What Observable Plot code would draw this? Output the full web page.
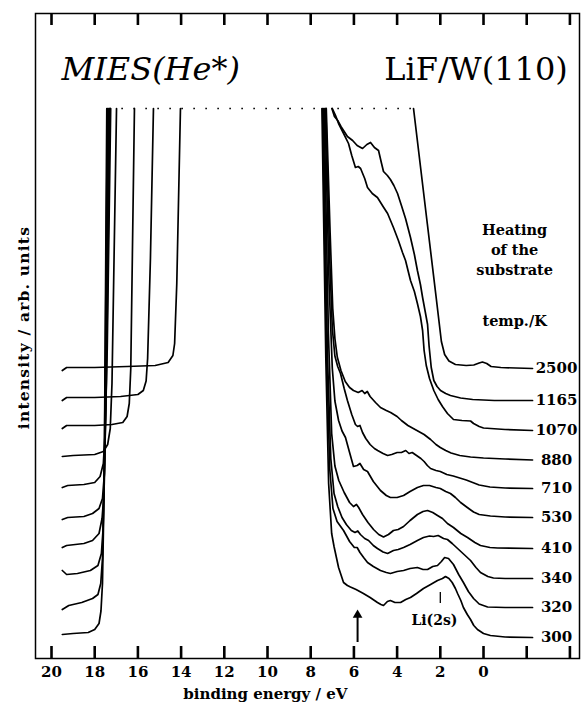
<!DOCTYPE html>
<html><head><meta charset="utf-8">
<script src="https://cdn.jsdelivr.net/npm/d3@7"></script>
<script src="https://cdn.jsdelivr.net/npm/@observablehq/plot@0.6"></script>
<style>body{margin:0;background:#fff} svg{display:block}</style>
</head><body><div id="chart"></div>
<script>
// Heating temperatures (K), bottom to top
const temps = [300, 320, 340, 410, 530, 710, 880, 1070, 1165, 2500];
// x-axis ticks (binding energy, eV)
const tickE = [20, 18, 16, 14, 12, 10, 8, 6, 4, 2, 0, -2, -4];
const tickLabels = [20, 18, 16, 14, 12, 10, 8, 6, 4, 2, 0];
const clipLevel = 110;     // spectra truncated at this intensity (dotted line)
const clipSpan = [17.3, 3.24];
const arrowE = 5.83;       // marked feature
const li2sE = 2.0;         // Li(2s) position

// Left part of each spectrum (secondary-electron cutoff) [E, intensity]
const left_2500 = [[19.5,57.6],[19.3,58.2],[18,58.2],[16.5,58.4],[15.2,58.6],[14.6,59.2],[14.38,60.6],[14.3,63],[14.2,75],[14.03,110]];
const left_1165 = [[19.5,51.6],[19.3,52.2],[18,52.2],[16.8,52.4],[16.0,52.8],[15.75,53.6],[15.62,55.5],[15.55,60],[15.42,80],[15.28,110]];
const left_1070 = [[19.5,46.0],[19.3,46.6],[18,46.6],[17.2,46.8],[16.7,47.2],[16.5,48.4],[16.4,51],[16.33,58],[16.16,110]];
const left_880  = [[19.5,40.4],[19.0,40.6],[18.0,40.8],[17.6,41.4],[17.4,42.8],[17.28,46],[17.2,55],[16.99,110]];
const left_710  = [[19.5,34.2],[19.25,34.6],[18.5,34.8],[18.0,35.2],[17.75,36.4],[17.6,39],[17.52,45],[17.42,62],[17.26,110]];
const left_530  = [[19.5,27.8],[19.25,28.2],[18.5,28.4],[18.1,29],[17.8,30],[17.64,32],[17.55,37],[17.46,55],[17.30,110]];
const left_410  = [[19.5,22.2],[19.3,22.6],[18.5,23],[18.1,23.6],[17.8,25],[17.66,28],[17.57,33],[17.49,50],[17.34,110]];
const left_340  = [[19.5,17.6],[19.3,16.8],[18.8,17.0],[18.2,17.6],[17.85,18.6],[17.69,21],[17.61,26],[17.52,45],[17.38,110]];
const left_320  = [[19.5,9.8],[19.2,10.6],[18.6,11.2],[18.1,12.0],[17.85,12.8],[17.72,15],[17.64,20],[17.55,40],[17.41,110]];
const left_300  = [[19.5,4.8],[19.0,5.0],[18.3,5.2],[18.0,5.8],[17.8,7.0],[17.71,9.5],[17.64,15],[17.56,35],[17.44,110]];

// Right part of each spectrum (valence region) [E, intensity]
const right_2500 = [[3.24,110],[2.6,86.9],[2.2,72.5],[1.95,63.4],[1.8,60.8],[1.6,59.5],[1.3,58.8],[0.8,58.6],[0.45,58.7],[0.2,59.1],[0.05,59.3],[-0.15,59.0],[-0.35,58.4],[-0.8,58.2],[-1.5,58.1],[-2.27,58.0]];
const right_1165 = [[7.02,110],[6.9,108.4],[6.75,107.6],[6.6,106.4],[6.48,105.6],[6.3,104.4],[6.06,103.6],[5.85,102.6],[5.6,102.0],[5.4,102.8],[5.23,103.2],[5.05,102.2],[4.86,101.6],[4.72,99.0],[4.63,97.4],[4.45,96.6],[4.31,95.8],[4.15,94.6],[3.98,93.0],[3.8,90.6],[3.61,88.0],[3.38,84.2],[3.2,80.8],[3.06,77.6],[2.92,74.8],[2.82,72.2],[2.7,69.4],[2.59,66.8],[2.52,62.5],[2.42,58.2],[2.3,55.6],[2.15,54.4],[1.99,53.6],[1.75,53.0],[1.53,52.6],[1.06,52.1],[0.5,51.8],[-0.5,51.6],[-2.27,51.6]];
const right_1070 = [[7.0,110],[6.85,108.6],[6.71,107],[6.5,105.2],[6.25,103],[6.1,100.6],[5.93,98.2],[5.8,98.4],[5.69,98.0],[5.5,96.0],[5.37,94.2],[5.15,93.0],[4.91,92.2],[4.65,90.4],[4.44,89.0],[4.17,86.2],[3.94,83.6],[3.75,81.2],[3.61,79.6],[3.38,75.6],[3.2,73.4],[3.06,71.0],[2.92,68.4],[2.82,65.6],[2.75,61.6],[2.65,58.6],[2.5,56.0],[2.3,53.6],[2.1,51.8],[1.9,50.4],[1.67,49.0],[1.39,47.8],[1.0,47.6],[0.6,47.5],[0.46,47.0],[0.2,46.4],[0.0,46.1],[-1.0,45.8],[-2.27,45.6]];
const right_880  = [[7.28,110],[7.1,85],[6.98,70],[6.88,64],[6.77,60.3],[6.6,57.6],[6.4,55.4],[6.2,54.2],[6.02,53.6],[5.8,53.2],[5.62,53.6],[5.5,53.0],[5.38,53.4],[5.25,52.4],[5.0,51.2],[4.77,50.2],[4.5,49.6],[4.3,49.2],[4.0,48.4],[3.8,47.6],[3.5,46.6],[3.25,46.0],[3.0,45.4],[2.75,44.8],[2.45,43.8],[2.2,42.8],[2.0,42.2],[1.75,41.6],[1.5,41.1],[1.1,40.6],[0.6,40.3],[0.0,40.1],[-1.0,39.9],[-2.27,39.7]];
const right_710  = [[7.30,110],[7.12,80],[7.0,66],[6.88,60.5],[6.75,58.4],[6.62,57],[6.45,54],[6.3,51.6],[6.1,48.8],[5.93,46.8],[5.83,46.4],[5.72,46.6],[5.6,45.2],[5.45,44],[5.25,42.8],[5.05,42],[4.9,41.6],[4.65,41.0],[4.44,40.6],[4.25,40.8],[4.0,41.2],[3.8,41.2],[3.6,41.6],[3.45,41.0],[3.3,41.2],[3.1,40.6],[2.9,40.0],[2.75,39.4],[2.6,38.6],[2.45,38.0],[2.2,37.6],[2.0,37.4],[1.7,36.8],[1.4,36.5],[1.1,36.1],[0.8,35.7],[0.5,35.2],[0.2,34.7],[-0.3,34.3],[-1.0,34.1],[-2.27,34.0]];
const right_530  = [[7.34,110],[7.15,75],[7.0,58],[6.88,51.5],[6.71,47.6],[6.55,45.5],[6.39,44.2],[6.2,41.2],[6.02,38.4],[5.85,38.6],[5.72,39.0],[5.55,37.8],[5.37,37.4],[5.1,35.4],[4.77,33.6],[4.5,32.6],[4.31,32.2],[4.0,32.2],[3.7,32.6],[3.4,33.4],[3.06,34.2],[2.78,34.6],[2.5,34.6],[2.2,34.2],[2.0,34.0],[1.75,33.4],[1.53,33.0],[1.3,32.2],[1.06,31.2],[0.75,30.2],[0.46,29.3],[0.2,28.8],[-0.32,28.5],[-1.0,28.3],[-2.27,28.2]];
const right_410  = [[7.38,110],[7.18,65],[7.03,45],[6.88,38.5],[6.7,35.6],[6.45,33.2],[6.2,31.2],[6.02,30.4],[5.88,30.8],[5.78,30.2],[5.6,28.8],[5.35,27.2],[5.09,25.8],[4.85,24.8],[4.63,24.3],[4.4,24.8],[4.17,25.6],[3.95,25.8],[3.7,26.4],[3.4,27.6],[3.06,28.8],[2.8,29.4],[2.59,29.6],[2.35,29.2],[2.13,28.6],[1.9,28.0],[1.67,27.0],[1.39,26.2],[1.05,25.0],[0.74,24.2],[0.4,23.2],[0.14,22.6],[-0.3,22.2],[-0.65,22.1],[-2.27,22.0]];
const right_340  = [[7.42,110],[7.22,60],[7.07,40],[6.92,33],[6.75,30.4],[6.55,28.2],[6.35,26.8],[6.12,25.6],[5.95,25.2],[5.82,25.5],[5.7,24.8],[5.5,24.0],[5.32,23.6],[5.1,22.6],[4.91,22.0],[4.65,21.3],[4.44,21.0],[4.17,21.6],[3.95,21.8],[3.7,22.2],[3.4,22.8],[3.06,23.6],[2.78,24.2],[2.5,24.5],[2.31,24.4],[2.1,24.6],[1.85,24.0],[1.67,23.8],[1.45,23.0],[1.2,22.0],[0.9,20.8],[0.6,19.6],[0.35,18.2],[0.14,17.2],[-0.2,16.4],[-0.46,16.1],[-1.0,16.0],[-2.27,16.0]];
const right_320  = [[7.45,110],[7.26,60],[7.12,38],[6.97,30],[6.78,27.4],[6.48,25.6],[6.2,23.4],[5.98,22.2],[5.85,22.2],[5.72,21.2],[5.55,20.2],[5.37,19.2],[5.1,18.4],[4.77,17.6],[4.5,17.2],[4.31,17.0],[4.0,17.4],[3.7,17.6],[3.4,18.0],[3.06,18.2],[2.8,17.8],[2.59,17.8],[2.35,18.4],[2.13,18.6],[1.95,19.4],[1.8,20.2],[1.62,20.0],[1.39,18.8],[1.15,16.8],[0.93,15.2],[0.7,13.4],[0.46,12.0],[0.2,10.9],[-0.19,10.3],[-1.0,10.2],[-2.27,10.2]];
const right_300  = [[7.48,110],[7.3,60],[7.17,35],[7.03,25],[6.92,22.4],[6.8,20],[6.71,18.2],[6.48,15.2],[6.3,14.6],[6.16,14.3],[5.9,13.8],[5.56,13.0],[5.25,12.2],[4.91,11.2],[4.75,10.8],[4.63,10.6],[4.45,11.4],[4.31,11.6],[4.1,11.2],[3.84,11.2],[3.6,11.8],[3.38,12.2],[3.1,13.0],[2.78,14.0],[2.45,14.8],[2.13,15.6],[1.9,16.0],[1.76,16.4],[1.6,16.0],[1.45,15.2],[1.3,14.0],[1.2,13.0],[1.05,11.6],[0.93,10.2],[0.75,8.8],[0.6,7.8],[0.45,6.6],[0.28,5.8],[0.0,5.0],[-0.32,4.6],[-1.0,4.3],[-2.27,4.2]];

const lefts  = [left_300, left_320, left_340, left_410, left_530, left_710, left_880, left_1070, left_1165, left_2500];
const rights = [right_300, right_320, right_340, right_410, right_530, right_710, right_880, right_1070, right_1165, right_2500];

const rows = [];
temps.forEach((t, i) => {
  lefts[i].forEach(([E, I]) => rows.push({key: t + "L", E, I}));
  rights[i].forEach(([E, I]) => rows.push({key: t + "R", E, I}));
});
const ends = temps.map((t, i) => {
  const p = rights[i][rights[i].length - 1];
  return {t, E: p[0], I: p[1]};
});

const bold = {fontWeight: "bold", fill: "black"};

const chart = Plot.plot({
  width: 581, height: 709,
  marginLeft: 35, marginRight: 2, marginTop: 13, marginBottom: 51,
  x: {domain: [20.741, -4.444], axis: null},
  y: {domain: [0, 129], axis: null},
  style: {fontFamily: "DejaVu Serif", background: "white", color: "black"},
  marks: [
    Plot.frame({stroke: "black", strokeWidth: 1.5}),
    Plot.ruleX(tickE, {y1: 0, y2: 2.4, stroke: "black", strokeWidth: 2.6}),
    Plot.ruleX(tickE, {y1: 129, y2: 126.6, stroke: "black", strokeWidth: 2.6}),
    Plot.text(tickLabels, {x: d => d, y: 0, dy: 14, text: d => String(d), fontSize: 15, ...bold}),
    Plot.text(["binding energy / eV"], {x: 10.1, y: 0, dy: 36, fontSize: 15, ...bold}),
    Plot.text(["intensity / arb. units"], {x: 21.25, y: 66.2, rotate: -90, fontSize: 15.5, className: "ylab", ...bold}),
    Plot.ruleY([clipLevel], {x1: clipSpan[0], x2: clipSpan[1], stroke: "black", strokeWidth: 1.6, strokeDasharray: "1.6,10.4"}),
    Plot.line(rows, {x: "E", y: "I", z: "key", stroke: "black", strokeWidth: 1.7, strokeLinejoin: "round"}),
    Plot.text(ends, {x: "E", y: "I", dx: 24, text: d => String(d.t), fontSize: 15, ...bold}),
    Plot.text(["Heating\nof the\nsubstrate"], {x: -1.44, y: 82, fontSize: 14.5, lineHeight: 1.38, ...bold}),
    Plot.text(["temp./K"], {x: -1.44, y: 67.4, fontSize: 14.5, ...bold}),
    Plot.text(["MIES(He*)"], {x: 19.54, y: 117.8, textAnchor: "start", fontSize: 32, fontStyle: "italic", fill: "black"}),
    Plot.text(["LiF/W(110)"], {x: -3.9, y: 117.8, textAnchor: "end", fontSize: 32, fill: "black"}),
    Plot.ruleX([li2sE], {y1: 11, y2: 13.2, stroke: "black", strokeWidth: 1.3}),
    Plot.text(["Li(2s)"], {x: 2.27, y: 7.6, fontSize: 14, ...bold}),
    Plot.ruleX([arrowE], {y1: 3.2, y2: 8.4, stroke: "black", strokeWidth: 2}),
    Plot.dot([arrowE], {x: d => d, y: 8.7, symbol: "triangle", r: 3.6, fill: "black", stroke: "none"})
  ]
});
d3.select(chart).selectAll(".ylab text").attr("letter-spacing", "1.2px");
document.getElementById("chart").appendChild(chart);
</script></body></html>
